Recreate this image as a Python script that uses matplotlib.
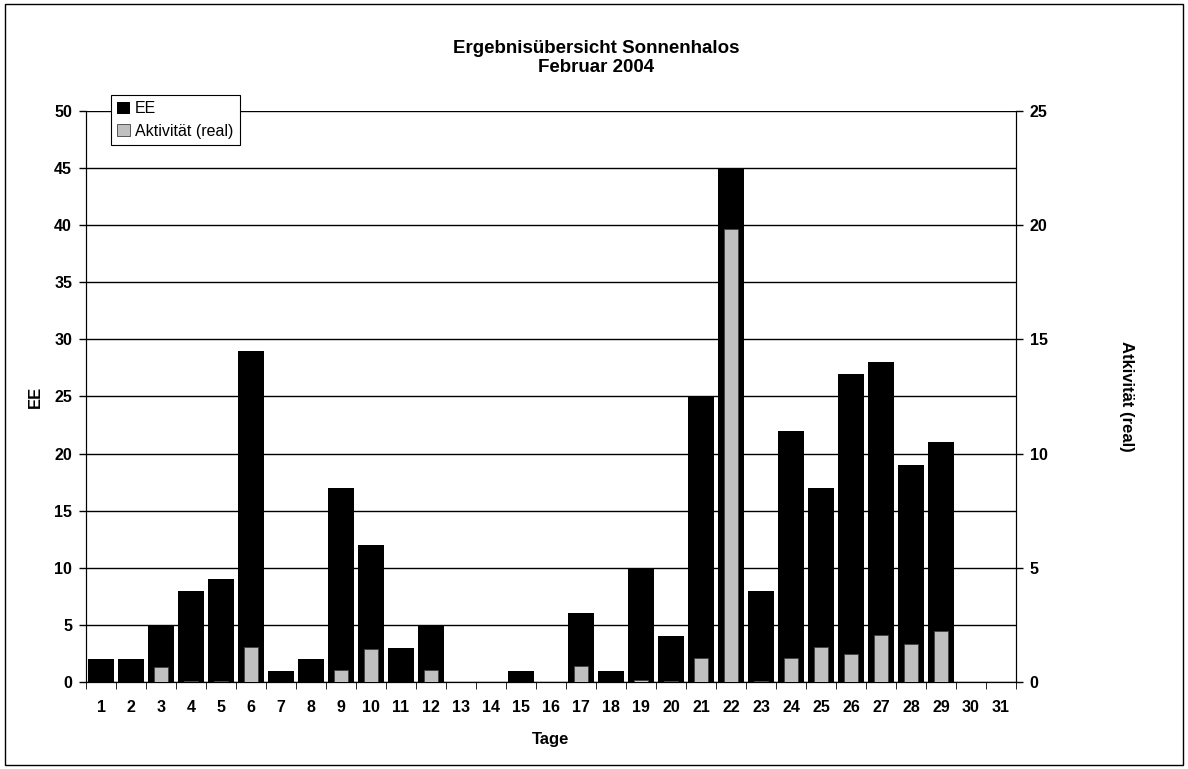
import matplotlib
matplotlib.use("Agg")
import matplotlib.pyplot as plt
import numpy as np

plt.rcParams['font.family'] = ['Liberation Sans', 'DejaVu Sans']

# Tage im Februar 2004
tage = list(range(1, 32))
# EE je Tag (linke Achse)
ee = [2, 2, 5, 8, 9, 29, 1, 2, 17, 12, 3, 5, 0, 0, 1, 0,
      6, 1, 10, 4, 25, 45, 8, 22, 17, 27, 28, 19, 21, 0, 0]
# Aktivitaet (real) je Tag (rechte Achse)
aktivitaet = [0, 0, 0.66, 0.05, 0.05, 1.53, 0, 0, 0.53, 1.43, 0, 0.53, 0, 0, 0, 0,
              0.71, 0, 0.1, 0.05, 1.04, 19.85, 0.05, 1.04, 1.52, 1.23, 2.04, 1.65, 2.25, 0, 0]

fig = plt.figure(figsize=(11.88, 7.69), dpi=100)
ax = fig.add_axes([0.0724, 0.1131, 0.7828, 0.7426])
ax2 = ax.twinx()

x = np.arange(len(tage))
ax.bar(x, ee, width=0.87, color='black', zorder=3, label='EE')
ax2.bar(x, aktivitaet, width=0.44, color='#c0c0c0', edgecolor='#404040', linewidth=0.6,
        zorder=3, label='Aktivität (real)')

ax.set_xlim(-0.5, len(tage) - 0.5)
ax.set_ylim(0, 50)
ax2.set_ylim(0, 25)
ax.set_yticks(range(0, 51, 5))
ax2.set_yticks(range(0, 26, 5))
ax.yaxis.grid(True, color='black', linewidth=1, zorder=0)
ax.set_axisbelow(True)

ax.set_xticks(x)
ax.set_xticklabels([str(t) for t in tage])
ax.set_xticks(np.arange(-0.5, len(tage), 1), minor=True)
ax.tick_params(axis='x', which='major', length=0, pad=13)
ax.tick_params(axis='x', which='minor', length=5, direction='out', color='black')

for a in (ax, ax2):
    a.tick_params(axis='y', length=5, direction='out', width=1, color='black', pad=5)
    for lbl in a.get_yticklabels():
        lbl.set_fontweight('bold')
        lbl.set_fontsize(11.5)
    a.spines['top'].set_visible(False)
for lbl in ax.get_xticklabels():
    lbl.set_fontweight('bold')
    lbl.set_fontsize(11.5)

ax.set_xlabel('Tage', fontweight='bold', fontsize=12, labelpad=12)
ax.set_ylabel('EE', fontweight='bold', fontsize=12, labelpad=8)
ax2.set_ylabel('Atkivität (real)', fontweight='bold', fontsize=12, rotation=270, labelpad=62)

fig.text(0.502, 0.9246, 'Ergebnisübersicht Sonnenhalos\nFebruar 2004', ha='center', va='center',
         fontweight='bold', fontsize=13.5, linespacing=1.15)

h1, l1 = ax.get_legend_handles_labels()
h2, l2 = ax2.get_legend_handles_labels()
leg = fig.legend(h1 + h2, l1 + l2, loc='upper left', bbox_to_anchor=(0.0934, 0.8765),
                 fancybox=False, framealpha=1, edgecolor='black', fontsize=11.5,
                 handlelength=0.8, handleheight=0.8, handletextpad=0.3,
                 borderpad=0.4, labelspacing=0.45, borderaxespad=0)
leg.get_frame().set_linewidth(0.8)
leg.set_zorder(10)

# Rahmen um die gesamte Grafik
fig.patches.append(plt.Rectangle((0.004, 0.005), 0.992, 0.99, transform=fig.transFigure,
                                 fill=False, edgecolor='black', linewidth=1))

fig.savefig('out.png', dpi=100)
